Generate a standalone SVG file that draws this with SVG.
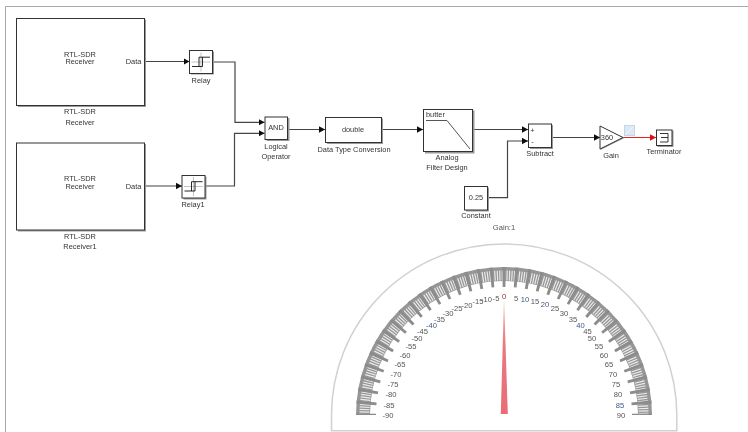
<svg xmlns="http://www.w3.org/2000/svg" width="748" height="432" viewBox="0 0 748 432">
<style>
text{font-family:"Liberation Sans",Arial,sans-serif;font-size:7.4px;fill:#333;text-anchor:middle}
.b{fill:#fff;stroke:#333;stroke-width:1}
.s{fill:#999;stroke:none}
.c{fill:none;stroke:#444;stroke-width:1.2;marker-end:url(#a)}
.g text{font-size:7.6px;fill:#555}
.g text.u{fill:#3d5a80}
</style>
<defs>
<marker id="a" markerUnits="userSpaceOnUse" markerWidth="7" markerHeight="8" refX="6" refY="4" orient="auto"><path d="M0,0.8L6,4L0,7.2Z" fill="#111"/></marker>
<marker id="r" markerUnits="userSpaceOnUse" markerWidth="7" markerHeight="8" refX="6" refY="4" orient="auto"><path d="M0,0.8L6,4L0,7.2Z" fill="#e01010"/></marker>
<linearGradient id="ng" x1="0" y1="0" x2="0" y2="1"><stop offset="0" stop-color="#f6b4b8"/><stop offset="0.4" stop-color="#ea7880"/><stop offset="1" stop-color="#e86c76"/></linearGradient>
<filter id="soft" filterUnits="userSpaceOnUse" x="0" y="0" width="748" height="432"><feGaussianBlur stdDeviation="0.45"/></filter>
<g id="relayIcon">
<path d="M0,-9.5V9.5M-9.5,0H9.5" stroke="#aaa" stroke-width="0.7" fill="none"/>
<path d="M-9,4.5H1.5V-4.8M9,-4.8H-2V4.5" stroke="#111" stroke-width="0.9" fill="none"/>
</g>
</defs>
<rect width="748" height="432" fill="#fff"/>
<g filter="url(#soft)">
<path id="frame" d="M748,6.5H5.5V432" fill="none" stroke="#a8a8a8" stroke-width="1"/>
<g id="connectors">
<path class="c" d="M145,61.5H189.5"/>
<path class="c" d="M145,186H182"/>
<path class="c" d="M213,62H235V122.3H264.5"/>
<path class="c" d="M205,186H234.5V133.3H264.5"/>
<path class="c" d="M288,129.5H325"/>
<path class="c" d="M382,129.5H423"/>
<path class="c" d="M473,129.5H528"/>
<path class="c" d="M488,197.7H507.5V141H528"/>
<path class="c" d="M552,137.5H600"/>
<path d="M623,137.5H656" fill="none" stroke="#e82020" stroke-width="1.1" marker-end="url(#r)"/>
</g>
<g id="receiver">
<rect class="s" x="18" y="19.5" width="128" height="87.5"/>
<rect class="b" x="16.5" y="18.5" width="128" height="87"/>
<text x="80" y="56.5">RTL-SDR</text><text x="80" y="64">Receiver</text>
<text x="133.5" y="64">Data</text>
<text x="80" y="114">RTL-SDR</text><text x="80" y="125">Receiver</text>
</g>
<g id="receiver1">
<rect class="s" x="18" y="144" width="128" height="87.5"/>
<rect class="b" x="16.5" y="143" width="128" height="87"/>
<text x="80" y="180.5">RTL-SDR</text><text x="80" y="188.5">Receiver</text>
<text x="133.5" y="188.5">Data</text>
<text x="80" y="238.5">RTL-SDR</text><text x="80" y="249">Receiver1</text>
</g>
<g id="relay">
<rect class="s" x="191" y="51.5" width="23" height="23"/>
<rect class="b" x="189.5" y="50.5" width="23" height="23"/>
<use href="#relayIcon" x="201" y="62"/>
<text x="201" y="83">Relay</text>
</g>
<g id="relay1">
<rect class="s" x="183.5" y="176.5" width="23" height="23"/>
<rect class="b" x="182" y="175.5" width="23" height="22.5"/>
<use href="#relayIcon" x="193.5" y="186.5"/>
<text x="193" y="207">Relay1</text>
</g>
<g id="logical-operator">
<rect class="s" x="266.5" y="118" width="23" height="23"/>
<rect class="b" x="265" y="117" width="22.5" height="22.5"/>
<text x="276" y="130">AND</text>
<text x="276" y="149">Logical</text><text x="276" y="159">Operator</text>
</g>
<g id="data-type-conversion">
<rect class="s" x="327" y="118.5" width="56" height="25.5"/>
<rect class="b" x="325.5" y="117.5" width="56" height="25"/>
<text x="353" y="132">double</text>
<text x="354" y="151.5">Data Type Conversion</text>
</g>
<g id="analog-filter-design">
<rect class="s" x="425" y="110.5" width="49.5" height="43"/>
<rect class="b" x="423.5" y="109.5" width="49" height="42"/>
<text x="426" y="116.5" style="text-anchor:start">butter</text>
<path d="M426,120.5H447L470,149" fill="none" stroke="#555" stroke-width="1"/>
<text x="447" y="160">Analog</text><text x="447" y="170">Filter Design</text>
</g>
<g id="subtract">
<rect class="s" x="530" y="125" width="23" height="24"/>
<rect class="b" x="528.5" y="124" width="23" height="23.5"/>
<text x="532.5" y="132.5">+</text><text x="532.5" y="143.5">-</text>
<text x="540" y="156">Subtract</text>
</g>
<g id="constant">
<rect class="s" x="466" y="187.5" width="23" height="24"/>
<rect class="b" x="464.5" y="186.5" width="23" height="23.5"/>
<text x="476" y="199.5">0.25</text>
<text x="476" y="218">Constant</text>
</g>
<g id="gain">
<path d="M600.5,127L600.5,150L624.5,138Z" fill="#999"/>
<path d="M600,126L600,149L623,137.5Z" fill="#fff" stroke="#333" stroke-width="1"/>
<text x="607" y="140">360</text>
<text x="611" y="157.5">Gain</text>
<rect x="624.5" y="125.5" width="10" height="10" fill="#dce8f4" stroke="#c4d6e8" stroke-width="1"/>
<path d="M626,134L633,127" stroke="#f4f8fc" stroke-width="1"/>
</g>
<g id="terminator">
<rect class="s" x="657.5" y="130.5" width="16" height="16.5"/>
<rect class="b" x="656.5" y="130" width="15.5" height="15.5"/>
<path d="M660,133.5H668V142H660M661,137.5H668" fill="none" stroke="#222" stroke-width="0.9"/>
<text x="664" y="154">Terminator</text>
</g>
<g id="gauge" class="g">
<text x="504" y="230">Gain:1</text>
<path d="M331.5,415A172.5,171 0 0 1 676.8,415V430.8H331.5Z" fill="#fff" stroke="#d0d0d0" stroke-width="1.5"/>
<path d="M363,415A141,141 0 0 1 645,415" fill="none" stroke="#969696" stroke-width="14"/>
<path d="M364.5,415A139.5,139.5 0 0 1 643.5,415" fill="none" stroke="#ededed" stroke-width="10" stroke-dasharray="1.15 1.285"/>
<path d="M366,415A138,138 0 0 1 642,415" fill="none" stroke="#8c8c8c" stroke-width="20" stroke-dasharray="3 9.04" stroke-dashoffset="1.5"/>
<path d="M504,298L500.8,414H507.8Z" fill="url(#ng)"/>
<text x="388" y="417.5">-90</text><text x="389" y="408">-85</text><text x="391" y="397">-80</text><text x="393" y="387">-75</text><text x="396" y="377">-70</text><text x="400" y="367">-65</text><text x="405" y="358">-60</text><text x="411" y="349">-55</text><text x="417" y="340.5">-50</text><text x="422.5" y="334">-45</text><text class="u" x="431.5" y="327.5">-40</text><text x="439.5" y="322">-35</text><text x="448" y="316">-30</text><text x="457" y="311">-25</text><text x="467" y="308">-20</text><text x="478" y="304">-15</text><text x="486.5" y="302">-10</text><text x="496" y="301">-5</text>
<text x="504" y="299" style="fill:#8a3030">0</text><text x="516" y="300.5">5</text><text class="u" x="525" y="302">10</text><text x="535" y="304">15</text><text class="u" x="545" y="307">20</text><text x="555" y="311">25</text><text x="564" y="316">30</text><text x="573" y="322">35</text><text class="u" x="580.5" y="327.5">40</text><text x="587.5" y="334">45</text><text x="592" y="340.5">50</text><text x="599" y="349">55</text><text x="604" y="358">60</text><text x="609" y="367">65</text><text x="613" y="377">70</text><text x="616" y="387">75</text><text x="618" y="397">80</text><text class="u" x="620" y="408">85</text><text x="621" y="417.5">90</text>
</g>
</g>
</svg>
